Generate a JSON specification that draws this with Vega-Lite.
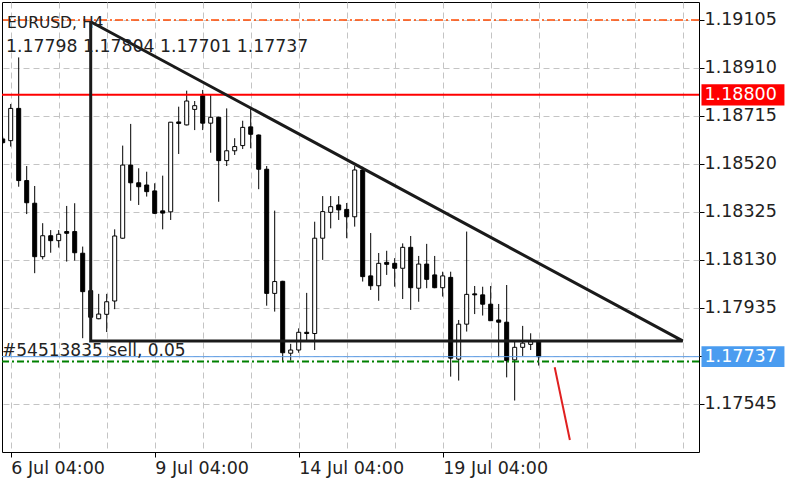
{
  "$schema": "https://vega.github.io/schema/vega-lite/v6.json",
  "width": 697,
  "height": 450,
  "autosize": {"type": "none"},
  "padding": {"left": 2, "top": 2, "right": 101, "bottom": 28},
  "background": "white",
  "config": {"view": {"stroke": "#000", "strokeWidth": 1}, "font": "DejaVu Sans"},
  "datasets": {
    "bars": [
      {"i":-1,"o":1.18621,"h":1.18630,"l":1.18600,"c":1.18606},
      {"i":0,"o":1.18614,"h":1.18763,"l":1.18590,"c":1.18745},
      {"i":1,"o":1.18745,"h":1.18952,"l":1.18427,"c":1.18452},
      {"i":2,"o":1.18452,"h":1.18511,"l":1.18316,"c":1.18362},
      {"i":3,"o":1.18360,"h":1.18430,"l":1.18076,"c":1.18143},
      {"i":4,"o":1.18143,"h":1.18279,"l":1.18132,"c":1.18228},
      {"i":5,"o":1.18228,"h":1.18251,"l":1.18159,"c":1.18208},
      {"i":6,"o":1.18208,"h":1.18251,"l":1.18180,"c":1.18234},
      {"i":7,"o":1.18245,"h":1.18349,"l":1.18123,"c":1.18238},
      {"i":8,"o":1.18245,"h":1.18360,"l":1.18127,"c":1.18159},
      {"i":9,"o":1.18157,"h":1.18184,"l":1.17812,"c":1.18001},
      {"i":10,"o":1.18005,"h":1.18008,"l":1.17891,"c":1.17897},
      {"i":11,"o":1.17891,"h":1.17992,"l":1.17889,"c":1.17910},
      {"i":12,"o":1.17909,"h":1.17992,"l":1.17837,"c":1.17960},
      {"i":13,"o":1.17963,"h":1.18254,"l":1.17930,"c":1.18227},
      {"i":14,"o":1.18218,"h":1.18594,"l":1.18216,"c":1.18515},
      {"i":15,"o":1.18515,"h":1.18682,"l":1.18370,"c":1.18443},
      {"i":16,"o":1.18443,"h":1.18502,"l":1.18353,"c":1.18427},
      {"i":17,"o":1.18434,"h":1.18488,"l":1.18387,"c":1.18407},
      {"i":18,"o":1.18410,"h":1.18441,"l":1.18316,"c":1.18319},
      {"i":19,"o":1.18329,"h":1.18472,"l":1.18254,"c":1.18320},
      {"i":20,"o":1.18325,"h":1.18690,"l":1.18292,"c":1.18689},
      {"i":21,"o":1.18690,"h":1.18752,"l":1.18560,"c":1.18684},
      {"i":22,"o":1.18678,"h":1.18817,"l":1.18676,"c":1.18775},
      {"i":23,"o":1.18741,"h":1.18775,"l":1.18657,"c":1.18756},
      {"i":24,"o":1.18797,"h":1.18820,"l":1.18657,"c":1.18685},
      {"i":25,"o":1.18685,"h":1.18803,"l":1.18565,"c":1.18709},
      {"i":26,"o":1.18709,"h":1.18711,"l":1.18366,"c":1.18533},
      {"i":27,"o":1.18533,"h":1.18745,"l":1.18511,"c":1.18573},
      {"i":28,"o":1.18573,"h":1.18624,"l":1.18556,"c":1.18590},
      {"i":29,"o":1.18594,"h":1.18695,"l":1.18580,"c":1.18668},
      {"i":30,"o":1.18670,"h":1.18749,"l":1.18583,"c":1.18640},
      {"i":31,"o":1.18637,"h":1.18639,"l":1.18417,"c":1.18498},
      {"i":32,"o":1.18498,"h":1.18511,"l":1.17944,"c":1.17994},
      {"i":33,"o":1.17994,"h":1.18330,"l":1.17920,"c":1.18042},
      {"i":34,"o":1.18043,"h":1.18045,"l":1.17717,"c":1.17753},
      {"i":35,"o":1.17751,"h":1.17789,"l":1.17721,"c":1.17764},
      {"i":36,"o":1.17764,"h":1.17852,"l":1.17753,"c":1.17836},
      {"i":37,"o":1.17836,"h":1.17996,"l":1.17798,"c":1.17831},
      {"i":38,"o":1.17831,"h":1.18285,"l":1.17764,"c":1.18218},
      {"i":39,"o":1.18218,"h":1.18389,"l":1.18130,"c":1.18326},
      {"i":40,"o":1.18323,"h":1.18389,"l":1.18258,"c":1.18346},
      {"i":41,"o":1.18353,"h":1.18389,"l":1.18292,"c":1.18333},
      {"i":42,"o":1.18335,"h":1.18361,"l":1.18218,"c":1.18305},
      {"i":43,"o":1.18305,"h":1.18511,"l":1.18265,"c":1.18495},
      {"i":44,"o":1.18495,"h":1.18508,"l":1.18042,"c":1.18062},
      {"i":45,"o":1.18065,"h":1.18239,"l":1.18008,"c":1.18025},
      {"i":46,"o":1.18025,"h":1.18158,"l":1.17964,"c":1.18116},
      {"i":47,"o":1.18120,"h":1.18167,"l":1.18069,"c":1.18112},
      {"i":48,"o":1.18116,"h":1.18137,"l":1.18021,"c":1.18096},
      {"i":49,"o":1.18096,"h":1.18197,"l":1.17971,"c":1.18181},
      {"i":50,"o":1.18181,"h":1.18227,"l":1.17927,"c":1.18017},
      {"i":51,"o":1.18015,"h":1.18146,"l":1.17960,"c":1.18113},
      {"i":52,"o":1.18113,"h":1.18195,"l":1.18015,"c":1.18051},
      {"i":53,"o":1.18069,"h":1.18146,"l":1.18015,"c":1.18017},
      {"i":54,"o":1.18017,"h":1.18082,"l":1.17981,"c":1.18065},
      {"i":55,"o":1.18059,"h":1.18082,"l":1.17656,"c":1.17731},
      {"i":56,"o":1.17727,"h":1.17886,"l":1.17640,"c":1.17869},
      {"i":57,"o":1.17869,"h":1.18245,"l":1.17839,"c":1.17990},
      {"i":58,"o":1.17992,"h":1.18024,"l":1.17910,"c":1.17988},
      {"i":59,"o":1.17988,"h":1.18021,"l":1.17904,"c":1.17950},
      {"i":60,"o":1.17950,"h":1.18024,"l":1.17883,"c":1.17883},
      {"i":61,"o":1.17886,"h":1.17951,"l":1.17735,"c":1.17877},
      {"i":62,"o":1.17877,"h":1.18028,"l":1.17653,"c":1.17721},
      {"i":63,"o":1.17724,"h":1.17798,"l":1.17559,"c":1.17775},
      {"i":64,"o":1.17775,"h":1.17862,"l":1.17740,"c":1.17792},
      {"i":65,"o":1.17787,"h":1.17832,"l":1.17764,"c":1.17798},
      {"i":66,"o":1.17798,"h":1.17804,"l":1.17701,"c":1.17737}
    ],
    "triangle": [
      {"i":10,"p":1.19097,"k":0},
      {"i":10,"p":1.17801,"k":1},
      {"i":84,"p":1.17801,"k":2},
      {"i":10,"p":1.19097,"k":3}
    ],
    "segment": [
      {"i":68,"p":1.17694,"k":0},
      {"i":69.9,"p":1.17399,"k":1}
    ]
  },
  "layer": [
    {
      "data": {"name": "bars"},
      "mark": {"type": "rule", "color": "#000", "strokeWidth": 1, "clip": true},
      "encoding": {
        "x": {
          "field": "i", "type": "quantitative",
          "scale": {"domain": [-1.0875, 86.04], "nice": false, "zero": false, "padding": 0},
          "axis": {
            "title": null,
            "values": [0,6,12,18,24,30,36,42,48,54,60,66,72,78,84],
            "labelExpr": "datum.value == 0 ? '6 Jul 04:00' : datum.value == 18 ? '9 Jul 04:00' : datum.value == 36 ? '14 Jul 04:00' : datum.value == 54 ? '19 Jul 04:00' : ''",
            "labelAlign": "left",
            "labelFont": "DejaVu Sans",
            "labelFontSize": 17.5,
            "labelColor": "#222",
            "labelPadding": 2,
            "labelOverlap": false,
            "labelFlush": false,
            "tickSize": 5,
            "tickColor": {"condition": {"test": "datum.value % 18 === 0 && datum.value <= 54", "value": "#000"}, "value": "transparent"},
            "grid": true,
            "gridColor": "#c4c4c4",
            "gridDash": [6, 4],
            "domain": false
          }
        },
        "y": {
          "field": "l", "type": "quantitative",
          "scale": {"domain": [1.1735, 1.19177], "nice": false, "zero": false, "padding": 0},
          "axis": {
            "title": null,
            "orient": "right",
            "values": [1.17545, 1.1774, 1.17935, 1.1813, 1.18325, 1.1852, 1.18715, 1.1891, 1.19105],
            "labelExpr": "abs(datum.value - 1.1774) < 0.00001 ? '' : format(datum.value, '.5f')",
            "labelFont": "DejaVu Sans",
            "labelFontSize": 17.5,
            "labelColor": "#222",
            "labelPadding": 0,
            "tickSize": 5,
            "tickColor": "#000",
            "grid": true,
            "gridColor": "#c4c4c4",
            "gridDash": [6, 4],
            "domain": false
          }
        },
        "y2": {"field": "h"}
      }
    },
    {
      "data": {"name": "bars"},
      "mark": {"type": "bar", "width": 4, "stroke": "#000", "strokeWidth": 1, "clip": true},
      "encoding": {
        "x": {"field": "i", "type": "quantitative"},
        "y": {"field": "o", "type": "quantitative"},
        "y2": {"field": "c"},
        "fill": {"condition": {"test": "datum.c < datum.o", "value": "#000"}, "value": "#fff"}
      }
    },
    {
      "data": {"values": [{"p": 1.19104}]},
      "mark": {"type": "rule", "color": "#ff4a00", "strokeWidth": 1.5, "strokeDash": [8, 3, 2, 3]},
      "encoding": {"y": {"field": "p", "type": "quantitative"}}
    },
    {
      "data": {"values": [{"p": 1.188}]},
      "mark": {"type": "rule", "color": "#ff0000", "strokeWidth": 2},
      "encoding": {"y": {"field": "p", "type": "quantitative"}}
    },
    {
      "data": {"values": [{"p": 1.17737}]},
      "mark": {"type": "rule", "color": "#5c9ee8", "strokeWidth": 1},
      "encoding": {"y": {"field": "p", "type": "quantitative"}}
    },
    {
      "data": {"values": [{"p": 1.17717}]},
      "mark": {"type": "rule", "color": "#008000", "strokeWidth": 2, "strokeDash": [7, 3, 2, 3]},
      "encoding": {"y": {"field": "p", "type": "quantitative"}}
    },
    {
      "data": {"name": "triangle"},
      "mark": {"type": "line", "color": "#1a1a1a", "strokeWidth": 3, "clip": true},
      "encoding": {
        "x": {"field": "i", "type": "quantitative"},
        "y": {"field": "p", "type": "quantitative"},
        "order": {"field": "k"}
      }
    },
    {
      "data": {"name": "segment"},
      "mark": {"type": "line", "color": "#e02020", "strokeWidth": 2},
      "encoding": {
        "x": {"field": "i", "type": "quantitative"},
        "y": {"field": "p", "type": "quantitative"},
        "order": {"field": "k"}
      }
    },
    {
      "data": {"values": [{"t": "#54513835 sell, 0.05"}]},
      "mark": {"type": "text", "align": "left", "baseline": "alphabetic", "fontSize": 17, "font": "DejaVu Sans", "color": "#222", "dx": 0, "dy": -6},
      "encoding": {"x": {"datum": -1.0875}, "y": {"datum": 1.17717}, "text": {"field": "t"}}
    },
    {
      "data": {"values": [{"t": "EURUSD, H4"}]},
      "mark": {"type": "text", "align": "left", "baseline": "alphabetic", "fontSize": 15.5, "font": "DejaVu Sans", "color": "#222", "dx": 5},
      "encoding": {"x": {"datum": -1.0875}, "y": {"datum": 1.19073}, "text": {"field": "t"}}
    },
    {
      "data": {"values": [{"t": "1.17798 1.17804 1.17701 1.17737"}]},
      "mark": {"type": "text", "align": "left", "baseline": "alphabetic", "fontSize": 17.3, "font": "DejaVu Sans", "color": "#222", "dx": 4},
      "encoding": {"x": {"datum": -1.0875}, "y": {"datum": 1.18975}, "text": {"field": "t"}}
    },
    {
      "data": {"values": [{"lo": 1.18757, "hi": 1.18843}]},
      "mark": {"type": "rect", "color": "#ff0000"},
      "encoding": {"x": {"datum": 86.35}, "x2": {"datum": 96.72}, "y": {"field": "lo", "type": "quantitative"}, "y2": {"field": "hi"}}
    },
    {
      "data": {"values": [{"lo": 1.17695, "hi": 1.17779}]},
      "mark": {"type": "rect", "color": "#4a9cf0"},
      "encoding": {"x": {"datum": 86.35}, "x2": {"datum": 96.72}, "y": {"field": "lo", "type": "quantitative"}, "y2": {"field": "hi"}}
    },
    {
      "data": {"values": [{"t": "1.18800", "p": 1.188}, {"t": "1.17737", "p": 1.17737}]},
      "mark": {"type": "text", "align": "left", "baseline": "middle", "fontSize": 17.5, "font": "DejaVu Sans", "color": "#fff", "dx": 3},
      "encoding": {"x": {"datum": 86.35}, "y": {"field": "p", "type": "quantitative"}, "text": {"field": "t"}}
    }
  ]
}
